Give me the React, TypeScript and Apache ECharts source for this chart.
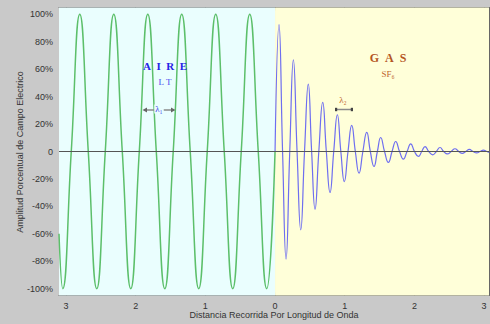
import React, { useEffect, useRef } from 'react';
import * as echarts from 'echarts';

// Tick positions
const xTicks = [-3, -2, -1, 0, 1, 2, 3];
const yTicks = [-1, -0.8, -0.6, -0.4, -0.2, 0, 0.2, 0.4, 0.6, 0.8, 1];

const aireX = [-3.1, -3.046, -2.924, -2.802, -2.68, -2.558, -2.436, -2.314, -2.192, -2.07, -1.948, -1.826, -1.704, -1.582, -1.461, -1.339, -1.217, -1.095, -0.973, -0.851, -0.729, -0.607, -0.485, -0.363, -0.241, -0.119, 0];
const aireY = [-0.6, -1, 0, 1, 0, -1, 0, 1, 0, -1, 0, 1, 0, -1, 0, 1, 0, -1, 0, 1, 0, -1, 0, 1, 0, -1, 0];

// Gas wave (right), decaying
const gasX = [0, 0.057, 0.108, 0.158, 0.211, 0.263, 0.316, 0.369, 0.423, 0.477, 0.525, 0.574, 0.628, 0.684, 0.736, 0.789, 0.842, 0.894, 0.944, 0.994, 1.047, 1.1, 1.152, 1.205, 1.26, 1.316, 1.367, 1.42, 1.468, 1.516, 1.571, 1.626, 1.679, 1.732, 1.786, 1.841, 1.894, 1.947, 2.001, 2.056, 2.105, 2.152, 2.205, 2.263, 2.314, 2.367, 2.42, 2.472, 2.528, 2.582, 2.635, 2.687, 2.737, 2.788, 2.841, 2.894, 2.941, 2.989, 3.039, 3.07];
const gasY = [0, 0.925, 0, -0.785, 0, 0.669, 0, -0.571, 0, 0.491, 0, -0.421, 0, 0.358, 0, -0.299, 0, 0.268, 0, -0.219, 0, 0.19, 0, -0.158, 0, 0.139, 0, -0.109, 0, 0.102, 0, -0.08, 0, 0.073, 0, -0.056, 0, 0.056, 0, -0.036, 0, 0.036, 0, -0.024, 0, 0.029, 0, -0.018, 0, 0.02, 0, -0.014, 0, 0.015, 0, -0.01, 0, 0.01, 0, -0.006];

const X_MIN = -3.1;
const X_MAX = 3.07;
const Y_MIN = -1.05;
const Y_MAX = 1.05;

const SANS = '"Liberation Sans", Arial, sans-serif';
const SERIF = '"Liberation Serif", "DejaVu Serif", serif';
const AXIS_COLOR = '#666';
const TICK_COLOR = '#444';

export default function App() {
  const ref = useRef<HTMLDivElement>(null);
  useEffect(() => {
    const chart = echarts.init(ref.current!, null, { renderer: 'svg' });
    const zip = (xs: number[], ys: number[]) => xs.map((x, i) => [x, ys[i]]);
    const baseX = {
      type: 'value',
      min: X_MIN,
      max: X_MAX,
      splitLine: { show: false },
      axisLine: { show: true, onZero: false, lineStyle: { color: AXIS_COLOR, width: 1 } },
      axisTick: { show: true, inside: true, length: 3, customValues: xTicks, lineStyle: { color: TICK_COLOR } },
    };
    const baseY = {
      type: 'value',
      min: Y_MIN,
      max: Y_MAX,
      splitLine: { show: false },
      axisLine: { show: true, onZero: false, lineStyle: { color: AXIS_COLOR, width: 1 } },
      axisTick: { show: true, inside: true, length: 3, customValues: yTicks, lineStyle: { color: TICK_COLOR } },
    };
    chart.setOption({
      animation: false,
      backgroundColor: '#c9c9c9',
      grid: { left: 59, top: 7.5, right: 1, bottom: 28.5, containLabel: false },
      xAxis: [
        {
          ...baseX,
          position: 'bottom',
          axisLabel: {
            customValues: xTicks,
            formatter: (v: number) => String(Math.abs(Math.round(v))),
            fontSize: 9,
            color: '#333',
            fontFamily: SANS,
            margin: 6,
          },
        },
        { ...baseX, position: 'top', axisLabel: { show: false } },
      ],
      yAxis: [
        {
          ...baseY,
          position: 'left',
          axisLabel: {
            customValues: yTicks,
            formatter: (v: number) => (Math.abs(v) < 1e-9 ? '0' : Math.round(v * 100) + '%'),
            fontSize: 9,
            color: '#333',
            fontFamily: SANS,
            margin: 6,
          },
        },
        { ...baseY, position: 'right', axisLabel: { show: false } },
      ],
      series: [
        {
          type: 'line',
          name: 'bg',
          z: 1,
          data: [],
          silent: true,
          markArea: {
            silent: true,
            data: [
              [{ xAxis: X_MIN, itemStyle: { color: '#eafefe' } }, { xAxis: 0 }],
              [{ xAxis: 0, itemStyle: { color: '#ffffd9' } }, { xAxis: X_MAX }],
            ],
          },
        },
        {
          type: 'line',
          name: 'Aire',
          z: 3,
          data: zip(aireX, aireY),
          smooth: true,
          showSymbol: false,
          lineStyle: { color: '#5cbf6a', width: 1.5 },
          silent: true,
        },
        {
          type: 'line',
          name: 'Gas',
          z: 3,
          data: zip(gasX, gasY),
          smooth: true,
          showSymbol: false,
          lineStyle: { color: '#6e6ef0', width: 1.2 },
          silent: true,
          markLine: {
            silent: true,
            symbol: ['none', 'none'],
            label: { show: false },
            lineStyle: { color: '#555', width: 1, type: 'solid' },
            data: [{ yAxis: 0 }],
          },
        },
      ],
      graphic: [
        {
          type: 'text',
          x: 20,
          y: 152,
          rotation: Math.PI / 2,
          style: {
            text: 'Amplitud Porcentual de Campo Electrico',
            fontSize: 9,
            fontFamily: SANS,
            fill: '#333',
            align: 'center',
            verticalAlign: 'middle',
          },
        },
        {
          type: 'text',
          x: 274,
          y: 315,
          style: {
            text: 'Distancia Recorrida Por Longitud de Onda',
            fontSize: 9,
            fontFamily: SANS,
            fill: '#333',
            align: 'center',
            verticalAlign: 'middle',
          },
        },
        {
          type: 'text',
          x: 165,
          y: 66,
          z: 10,
          style: {
            text: 'A\u00a0\u00a0I\u00a0\u00a0R\u00a0\u00a0E',
            fontSize: 11,
            fontWeight: 'bold',
            fontFamily: SERIF,
            fill: '#2424e6',
            align: 'center',
            verticalAlign: 'middle',
          },
        },
        {
          type: 'text',
          x: 165,
          y: 81.5,
          z: 10,
          style: {
            text: 'L\u00a0T',
            fontSize: 9,
            fontFamily: SERIF,
            fill: '#4a4aee',
            align: 'center',
            verticalAlign: 'middle',
          },
        },
        {
          type: 'text',
          x: 388,
          y: 58,
          z: 10,
          style: {
            text: 'G\u00a0\u00a0A\u00a0\u00a0S',
            fontSize: 12,
            fontWeight: 'bold',
            fontFamily: SERIF,
            fill: '#b4561f',
            align: 'center',
            verticalAlign: 'middle',
          },
        },
        {
          type: 'text',
          x: 388,
          y: 74,
          z: 10,
          style: {
            text: 'SF\u2086',
            fontSize: 9,
            fontFamily: SERIF,
            fill: '#c0652e',
            align: 'center',
            verticalAlign: 'middle',
          },
        },
        // lambda 1 marker
        {
          type: 'line',
          z: 10,
          shape: { x1: 145, y1: 110, x2: 173, y2: 110 },
          style: { stroke: '#8a8a8a', lineWidth: 1.5 },
        },
        {
          type: 'polygon',
          z: 10,
          shape: { points: [[142.5, 110], [147, 107.5], [147, 112.5]] },
          style: { fill: '#666' },
        },
        {
          type: 'polygon',
          z: 10,
          shape: { points: [[175.5, 110], [171, 107.5], [171, 112.5]] },
          style: { fill: '#666' },
        },
        {
          type: 'text',
          x: 159,
          y: 109,
          z: 11,
          style: {
            text: 'λ\u2081',
            fontSize: 9,
            fontFamily: SERIF,
            fill: '#3c3cea',
            align: 'center',
            verticalAlign: 'middle',
            backgroundColor: '#eafefe',
            padding: [0, 1, 0, 1],
          },
        },
        // lambda 2 marker
        {
          type: 'line',
          z: 10,
          shape: { x1: 336.5, y1: 109.5, x2: 351.5, y2: 109.5 },
          style: { stroke: '#8a8a8a', lineWidth: 1.5 },
        },
        {
          type: 'rect',
          z: 10,
          shape: { x: 335, y: 107.8, width: 2.2, height: 3.4 },
          style: { fill: '#444' },
        },
        {
          type: 'rect',
          z: 10,
          shape: { x: 350.8, y: 107.8, width: 2.2, height: 3.4 },
          style: { fill: '#444' },
        },
        {
          type: 'text',
          x: 343,
          y: 100,
          z: 10,
          style: {
            text: 'λ\u2082',
            fontSize: 9,
            fontFamily: SERIF,
            fill: '#c0652e',
            align: 'center',
            verticalAlign: 'middle',
          },
        },
      ],
    });
    return () => chart.dispose();
  }, []);
  return <div ref={ref} style={{ position: 'fixed', left: 0, top: 0, width: 490, height: 324 }} />;
}
